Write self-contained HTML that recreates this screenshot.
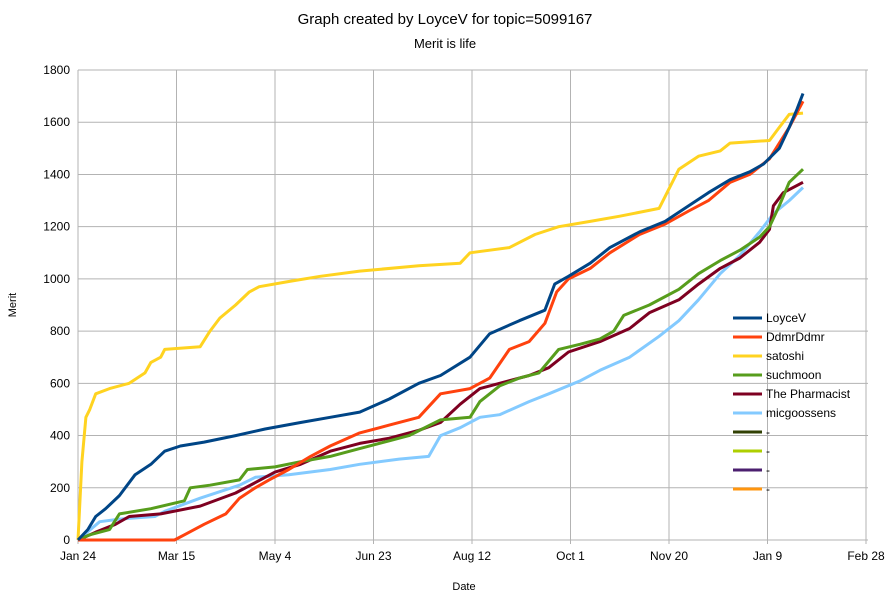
<!DOCTYPE html>
<html><head><meta charset="utf-8"><style>
body{margin:0;background:#fff;font-family:"Liberation Sans",sans-serif}
svg text{font-family:"Liberation Sans",sans-serif}
</style></head><body>
<svg id="chart" width="894" height="600" xmlns="http://www.w3.org/2000/svg">
<text x="445" y="24" text-anchor="middle" font-size="15">Graph created by LoyceV for topic=5099167</text>
<text x="445" y="48" text-anchor="middle" font-size="13">Merit is life</text>
<text x="16" y="305" text-anchor="middle" font-size="11" transform="rotate(-90 16 305)">Merit</text>
<text x="464" y="590" text-anchor="middle" font-size="11">Date</text>
<g id="grid"></g><g id="series"></g><g id="legend"></g>
</svg>
<script>
const yTicks=[0,200,400,600,800,1000,1200,1400,1600,1800];
const xTickDays=[0,50,100,150,200,250,300,350,400];
const xTickLabels=["Jan 24","Mar 15","May 4","Jun 23","Aug 12","Oct 1","Nov 20","Jan 9","Feb 28"];
const seriesNames=["LoyceV","DdmrDdmr","satoshi","suchmoon","The Pharmacist","micgoossens","-","-","-","-"];
const seriesColors=["#004586","#ff420e","#ffd320","#579d1c","#7e0021","#83caff","#314004","#aecf00","#4b1f6f","#ff950e"];
const loyceDays=[0,5,9,14,21,29,37,44,52,64,80,95,113,128,143,158,173,184,199,209,224,237,242,249,260,270,285,298,310,320,331,341,348,356,361,365,368];
const loyceVals=[0,40,90,120,170,250,290,340,360,375,400,425,450,470,490,540,600,630,700,790,840,880,980,1010,1060,1120,1180,1220,1280,1330,1380,1410,1440,1500,1580,1650,1710];
const ddmrDays=[0,49,54,64,75,82,90,97,107,118,128,143,158,173,184,199,209,219,229,237,243,249,260,270,285,298,310,320,331,341,351,361,368];
const ddmrVals=[0,0,20,60,100,160,200,230,270,320,360,410,440,470,560,580,620,730,760,830,950,1000,1040,1100,1170,1210,1260,1300,1370,1400,1460,1580,1680];
const satoshiDays=[0,2,4,6,9,16,26,34,37,42,44,62,67,72,80,87,92,107,123,143,173,194,199,219,232,244,260,275,295,305,315,326,331,351,356,361,368];
const satoshiVals=[0,300,470,500,560,580,600,640,680,700,730,740,800,850,900,950,970,990,1010,1030,1050,1060,1100,1120,1170,1200,1220,1240,1270,1420,1470,1490,1520,1530,1580,1630,1635];
const suchDays=[0,6,16,21,37,54,57,67,82,86,100,113,128,143,158,168,184,199,204,214,224,234,244,255,265,272,277,290,305,315,326,336,346,351,356,361,368];
const suchVals=[0,20,40,100,120,150,200,210,230,270,280,300,320,350,380,400,460,470,530,590,620,640,730,750,770,800,860,900,960,1020,1070,1110,1160,1200,1280,1370,1420];
const pharmDays=[0,9,19,26,42,62,80,90,100,113,128,143,158,173,184,194,204,214,229,239,249,265,280,290,305,315,326,336,346,351,353,358,368];
const pharmVals=[0,30,60,90,100,130,180,220,260,290,340,370,390,420,450,520,580,600,630,660,720,760,810,870,920,980,1040,1080,1140,1190,1280,1330,1370];
const micDays=[0,11,21,39,44,62,82,90,107,128,143,163,178,184,194,204,214,229,239,255,265,280,295,305,315,326,336,346,353,361,368];
const micVals=[0,70,80,90,110,160,210,240,250,270,290,310,320,400,430,470,480,530,560,610,650,700,780,840,920,1020,1090,1180,1250,1300,1350];

const L=78,R=866,T=70,B=540;
const xS=d=>L+d*(R-L)/400;
const yS=v=>B-v*(B-T)/1800;
const NS="http://www.w3.org/2000/svg";
function mk(tag,attrs,parent){const e=document.createElementNS(NS,tag);for(const k in attrs)e.setAttribute(k,attrs[k]);parent.appendChild(e);return e;}
const grid=document.getElementById('grid');
yTicks.forEach(v=>{
  const ln=mk('line',{x1:L,x2:R+2,y1:yS(v),y2:yS(v),stroke:'#b3b3b3','stroke-width':1},grid);
  
  
  const t=mk('text',{x:L-8,y:yS(v)+4,'text-anchor':'end','font-size':12},grid);
  t.textContent=v;
  
  
});
xTickDays.forEach((d,i)=>{
  const ln=mk('line',{x1:xS(d),x2:xS(d),y1:T,y2:B+4,stroke:'#b3b3b3','stroke-width':1},grid);
  
  
  const t=mk('text',{x:xS(d),y:B+20,'text-anchor':'middle','font-size':12},grid);
  t.textContent=xTickLabels[i];
  
  
});
const sg=document.getElementById('series');
const data=[[micDays,micVals,5],[pharmDays,pharmVals,4],[suchDays,suchVals,3],[satoshiDays,satoshiVals,2],[ddmrDays,ddmrVals,1],[loyceDays,loyceVals,0]];
data.forEach(([ds,vs,ci])=>{
  const pts=ds.map((d,i)=>xS(d).toFixed(1)+','+yS(vs[i]).toFixed(1)).join(' ');
  const p=mk('polyline',{points:pts,fill:'none',stroke:seriesColors[ci],'stroke-width':3,'stroke-linejoin':'round'},sg);
  
  
});
const lg=document.getElementById('legend');
seriesNames.forEach((n,i)=>{
  const y=318+i*19;
  const g=mk('g',{},lg);
  
  
  mk('line',{x1:733,x2:762,y1:y,y2:y,stroke:seriesColors[i],'stroke-width':3},g);
  const t=mk('text',{x:766,y:y+4,'font-size':12},g);
  t.textContent=n;
});
</script>
</body></html>
